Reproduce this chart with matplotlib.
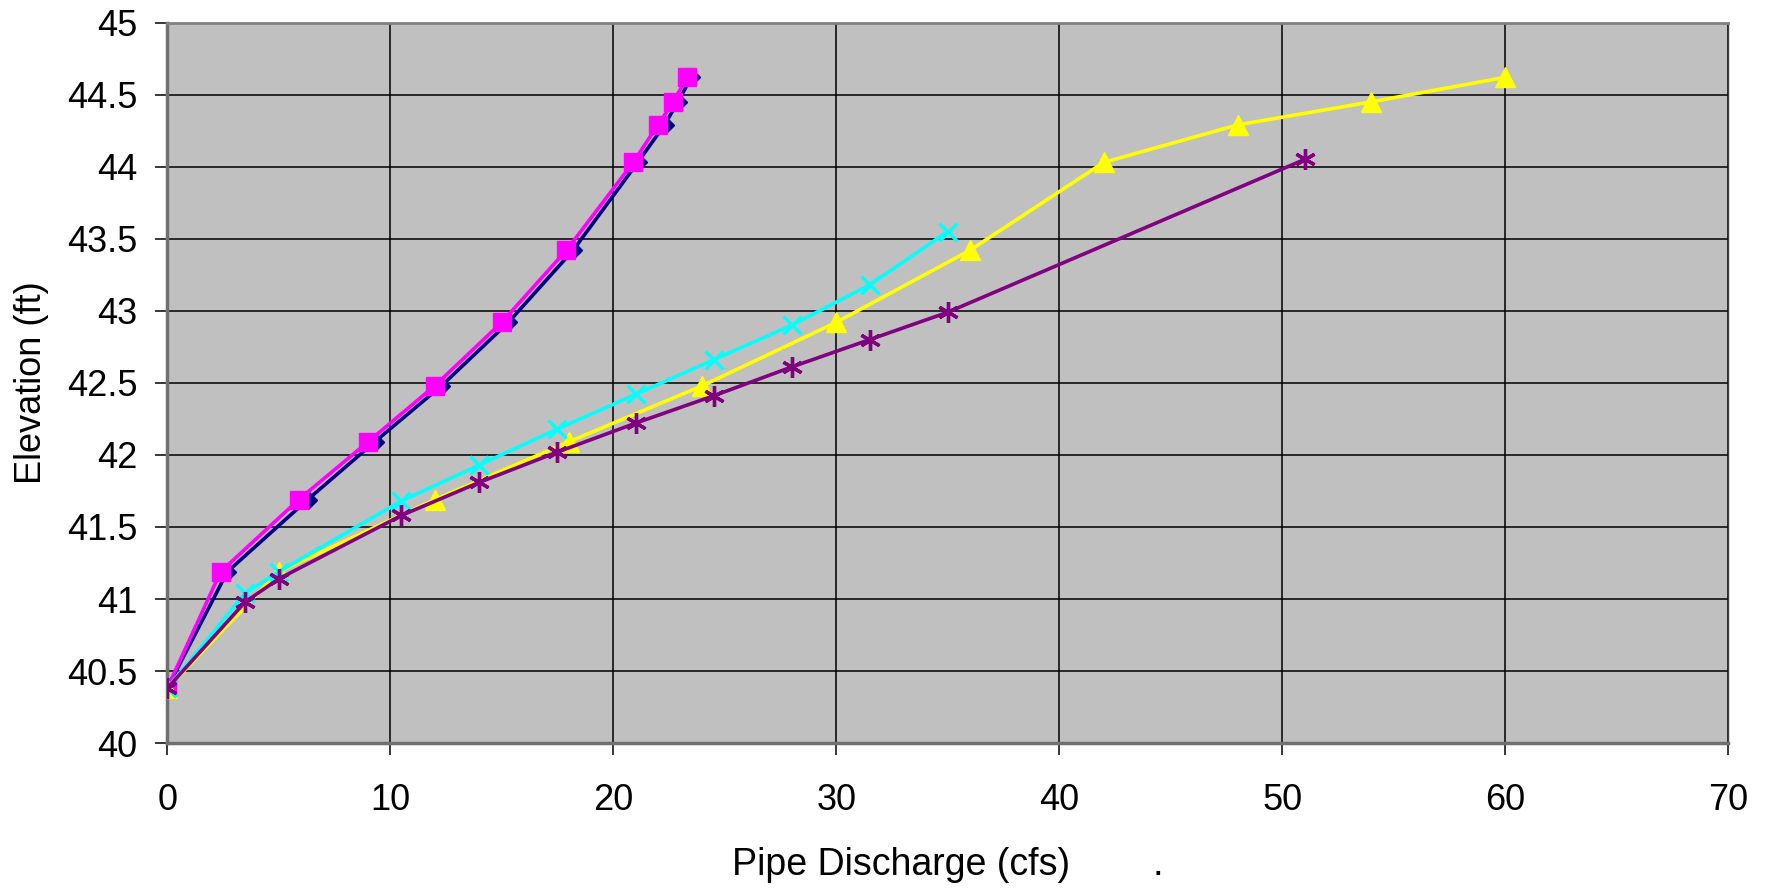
import matplotlib
matplotlib.use("Agg")
import matplotlib.pyplot as plt

# Data
navy_x = [0, 2.7, 6.3, 9.3, 12.3, 15.3, 18.2, 21.1, 22.3, 22.9, 23.5]
navy_y = [40.38, 41.19, 41.69, 42.09, 42.48, 42.92, 43.42, 44.03, 44.29, 44.45, 44.62]
mag_x = [0, 2.4, 5.9, 9.0, 12.0, 15.0, 17.9, 20.9, 22.0, 22.7, 23.3]
mag_y = [40.38, 41.19, 41.69, 42.09, 42.48, 42.92, 43.42, 44.03, 44.29, 44.45, 44.62]
yel_x = [0, 5, 12, 18, 24, 30, 36, 42, 48, 54, 60]
yel_y = [40.38, 41.19, 41.69, 42.09, 42.48, 42.92, 43.42, 44.03, 44.29, 44.45, 44.62]
cyan_x = [0, 3.5, 5, 10.5, 14, 17.5, 21, 24.5, 28, 31.5, 35]
cyan_y = [40.38, 41.04, 41.19, 41.68, 41.93, 42.18, 42.42, 42.66, 42.90, 43.18, 43.55]
pur_x = [0, 3.5, 5, 10.5, 14, 17.5, 21, 24.5, 28, 31.5, 35, 51]
pur_y = [40.38, 40.98, 41.14, 41.58, 41.81, 42.02, 42.22, 42.41, 42.61, 42.80, 42.99, 44.05]

x_ticks = [0, 10, 20, 30, 40, 50, 60, 70]
y_ticks = [40, 40.5, 41, 41.5, 42, 42.5, 43, 43.5, 44, 44.5, 45]
y_ticklabels = ["40", "40.5", "41", "41.5", "42", "42.5", "43", "43.5", "44", "44.5", "45"]

plt.rcParams['font.family'] = ['Liberation Sans', 'DejaVu Sans']

fig = plt.figure(figsize=(17.71, 8.88), dpi=100)
ax = fig.add_axes([0.0944, 0.1631, 0.8815, 0.8115])
ax.set_facecolor('#C0C0C0')

ax.plot(navy_x, navy_y, color='#000080', lw=2.6, marker='D', ms=9.5, zorder=3)
ax.plot(mag_x, mag_y, color='#FF00FF', lw=2.6, marker='s', ms=13.5, zorder=4)
ax.plot(yel_x, yel_y, color='#FFFF00', lw=2.6, marker='^', ms=14, zorder=5)
ax.plot(cyan_x, cyan_y, color='#00FFFF', lw=2.6, marker='x', ms=13, mew=2.4, zorder=6)
ax.plot(pur_x, pur_y, color='#800080', lw=2.6, marker=(6, 2, 0), ms=15, mew=2.4, zorder=7)

ax.set_xlim(0, 70)
ax.set_ylim(40, 45)
ax.set_xticks(x_ticks)
ax.set_yticks(y_ticks)
ax.set_yticklabels(y_ticklabels)
ax.grid(True, color='black', lw=1.1, zorder=1)
ax.set_axisbelow(True)

for s in ['left', 'bottom']:
    ax.spines[s].set_color('#707070')
    ax.spines[s].set_linewidth(2.5)
ax.spines['top'].set_color('#808080')
ax.spines['top'].set_linewidth(2)
ax.spines['right'].set_color('#404040')
ax.spines['right'].set_linewidth(1)

ax.tick_params(axis='both', direction='out', length=8.5, width=1.1, color='black', labelsize=26)
ax.tick_params(axis='y', pad=13)
ax.tick_params(axis='x', pad=20)

ax.set_xlabel('Pipe Discharge (cfs)        .', fontsize=27, labelpad=21)
ax.set_ylabel('Elevation (ft)', fontsize=26, labelpad=13)

fig.savefig('out.png', dpi=100, facecolor='white')
